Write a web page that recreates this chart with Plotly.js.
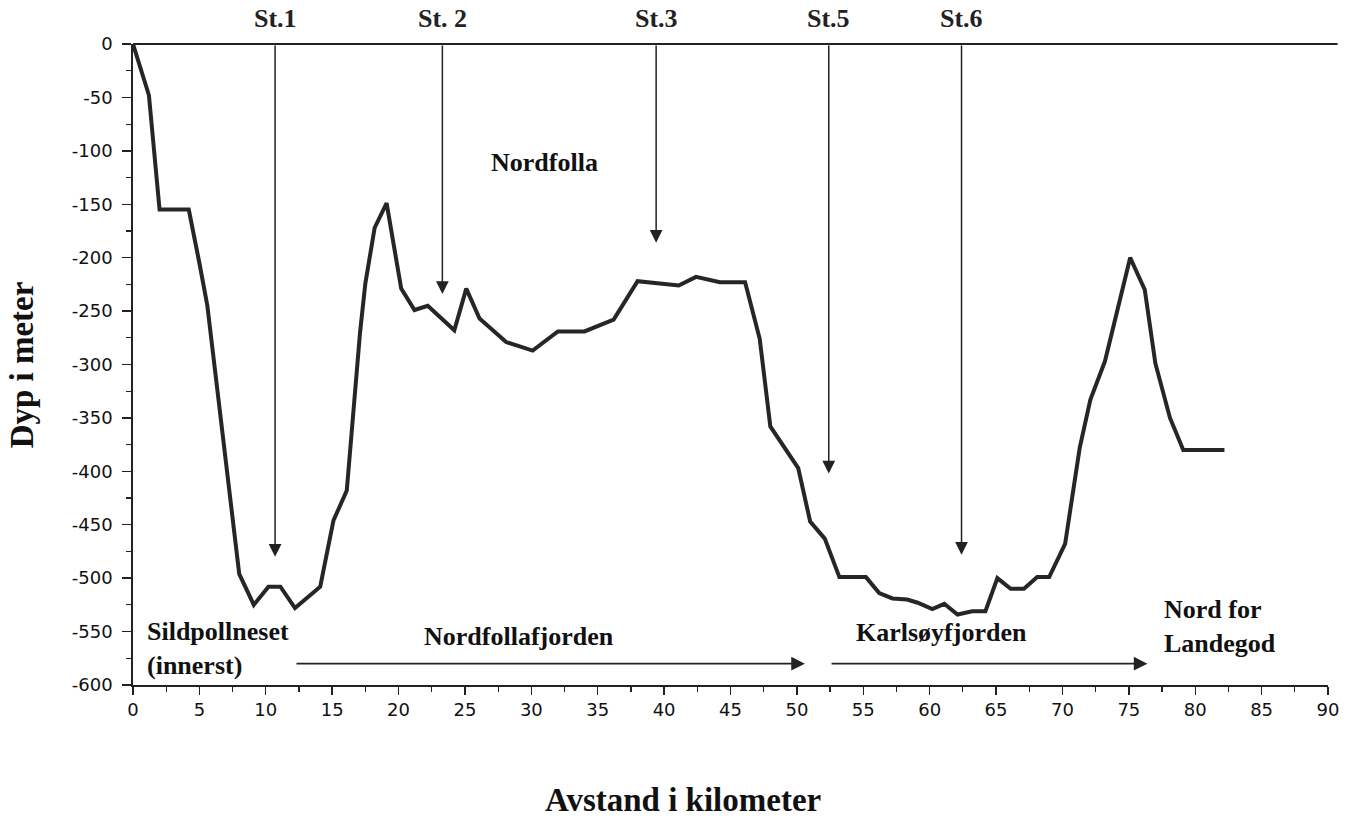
<!DOCTYPE html>
<html>
<head>
<meta charset="utf-8">
<script src="https://cdn.plot.ly/plotly-3.0.1.min.js"></script>
<style>html,body{margin:0;padding:0;background:#fff;}#chart{width:1353px;height:818px;}</style>
</head>
<body>
<div id="chart"></div>
<script>
// Distance along the fjord (km) and depth (m)
var distanceKm = [0, 1.2, 2, 4.2, 5, 5.6, 8, 9.1, 10.2, 11.1, 12.2, 14.1, 15.1, 16.1, 17.1, 17.5, 18.2, 19.1, 20.2, 21.2, 22.2, 24.2, 25.1, 26.1, 28.1, 30.1, 32, 34, 36.2, 38, 41.1, 42.4, 44.2, 46.1, 47.2, 48, 50.1, 51, 52.1, 53.2, 55.2, 56.2, 57.2, 58.3, 59.1, 60.2, 61.1, 62.1, 63.2, 64.2, 65.1, 66.1, 67.1, 68.1, 69, 70.2, 71.3, 72.1, 73.2, 75.1, 76.2, 77, 78.1, 79.1, 82.2];
var depthM = [0, -48, -155, -155, -205, -245, -496, -525, -508, -508, -528, -508, -446, -418, -270, -224, -172, -149, -229, -249, -245, -268, -229, -257, -279, -287, -269, -269, -258, -222, -226, -218, -223, -223, -276, -358, -397, -447, -463, -499, -499, -514, -519, -520, -523, -529, -524, -534, -531, -531, -500, -510, -510, -499, -499, -468, -378, -333, -297, -200, -230, -299, -350, -380, -380];

// Stations: label, position (km), arrow tip depth (m)
var stationLabels = ["St.1", "St. 2", "St.3", "St.5", "St.6"];
var stationKm = [10.7, 23.3, 39.4, 52.4, 62.4];
var stationTip = [-480, -234, -186, -402, -478];

// Region labels
var regionText = ["Nordfolla", "Sildpollneset<br>(innerst)", "Nordfollafjorden", "Karlsøyfjorden", "Nord for<br>Landegod"];
var regionKm = [31.0, 0.9, 29.1, 60.9, 77.5];
var regionDepth = [-111, -566, -555, -551, -545];
var regionAnchor = ["center", "left", "center", "center", "left"];

// Direction arrows along bottom
var dirFrom = [12.2, 52.5];
var dirTo = [50.6, 76.4];
var dirDepth = [-580, -580];

var xTickVals = [0, 5, 10, 15, 20, 25, 30, 35, 40, 45, 50, 55, 60, 65, 70, 75, 80, 85, 90];
var xTickText = ["0", "5", "10", "15", "20", "25", "30", "35", "40", "45", "50", "55", "60", "65", "70", "75", "80", "85", "90"];
var yTickVals = [0, -50, -100, -150, -200, -250, -300, -350, -400, -450, -500, -550, -600];
var yTickText = ["0", "-50", "-100", "-150", "-200", "-250", "-300", "-350", "-400", "-450", "-500", "-550", "-600"];

var serif = "Liberation Serif, Times New Roman, serif";
var sans = "DejaVu Sans, Verdana, sans-serif";

var annotations = [];
for (var i = 0; i < stationLabels.length; i++) {
  annotations.push({
    x: stationKm[i], y: stationTip[i], xref: "x", yref: "y",
    ax: stationKm[i], ay: 0, axref: "x", ayref: "y",
    text: "", showarrow: true, arrowhead: 2, arrowsize: 1.7, arrowwidth: 1.5,
    arrowcolor: "#222", standoff: 0, startstandoff: 0
  });
  annotations.push({
    x: stationKm[i], y: 1.04, xref: "x", yref: "paper",
    text: "<b>" + stationLabels[i] + "</b>", showarrow: false,
    xanchor: "center", yanchor: "middle",
    font: {family: serif, size: 26, color: "#222"}
  });
}
for (var j = 0; j < regionText.length; j++) {
  annotations.push({
    x: regionKm[j], y: regionDepth[j], xref: "x", yref: "y",
    text: "<b>" + regionText[j] + "</b>", showarrow: false,
    xanchor: regionAnchor[j], yanchor: "middle", align: "left",
    font: {family: serif, size: 26, color: "#111"}
  });
}
for (var k = 0; k < dirFrom.length; k++) {
  annotations.push({
    x: dirTo[k], y: dirDepth[k], xref: "x", yref: "y",
    ax: dirFrom[k], ay: dirDepth[k], axref: "x", ayref: "y",
    text: "", showarrow: true, arrowhead: 2, arrowsize: 1.6, arrowwidth: 1.7,
    arrowcolor: "#222", standoff: 0, startstandoff: 0
  });
}
annotations.push({
  x: 0.46, y: -0.18, xref: "paper", yref: "paper",
  text: "<b>Avstand i kilometer</b>", showarrow: false,
  xanchor: "center", yanchor: "middle",
  font: {family: serif, size: 33, color: "#111"}
});
annotations.push({
  x: -0.093, y: 0.5, xref: "paper", yref: "paper",
  text: "<b>Dyp i meter</b>", showarrow: false, textangle: -90,
  xanchor: "center", yanchor: "middle",
  font: {family: serif, size: 33, color: "#111"}
});

var trace = {
  x: distanceKm, y: depthM, type: "scatter", mode: "lines",
  line: {color: "#262626", width: 4}, hoverinfo: "skip"
};

var layout = {
  width: 1353, height: 818,
  margin: {l: 133, r: 25, t: 44, b: 133},
  paper_bgcolor: "#fff", plot_bgcolor: "#fff",
  showlegend: false,
  xaxis: {
    range: [0, 90], tickmode: "array", tickvals: xTickVals, ticktext: xTickText,
    ticks: "outside", ticklen: 8, tickwidth: 1.4, tickcolor: "#222",
    minor: {dtick: 2.5, ticks: "outside", ticklen: 5, tickwidth: 1.2, tickcolor: "#222"},
    showgrid: false, zeroline: false, showline: true, linecolor: "#222", linewidth: 1.8,
    tickfont: {family: sans, size: 18, color: "#111"}
  },
  yaxis: {
    range: [-600, 0], tickmode: "array", tickvals: yTickVals, ticktext: yTickText,
    ticks: "outside", ticklen: 9, tickwidth: 1.4, tickcolor: "#222",
    minor: {dtick: 25, ticks: "outside", ticklen: 5, tickwidth: 1.2, tickcolor: "#222"},
    showgrid: false, zeroline: false, showline: true, linecolor: "#222", linewidth: 1.8,
    ticklabelstandoff: 6,
    tickfont: {family: sans, size: 18, color: "#111"}
  },
  shapes: [{
    type: "line", xref: "paper", yref: "paper", x0: 0, x1: 1.008, y0: 1, y1: 1,
    line: {color: "#222", width: 1.8}
  }],
  annotations: annotations
};

Plotly.newPlot("chart", [trace], layout, {displayModeBar: false, staticPlot: true});
</script>
</body>
</html>
